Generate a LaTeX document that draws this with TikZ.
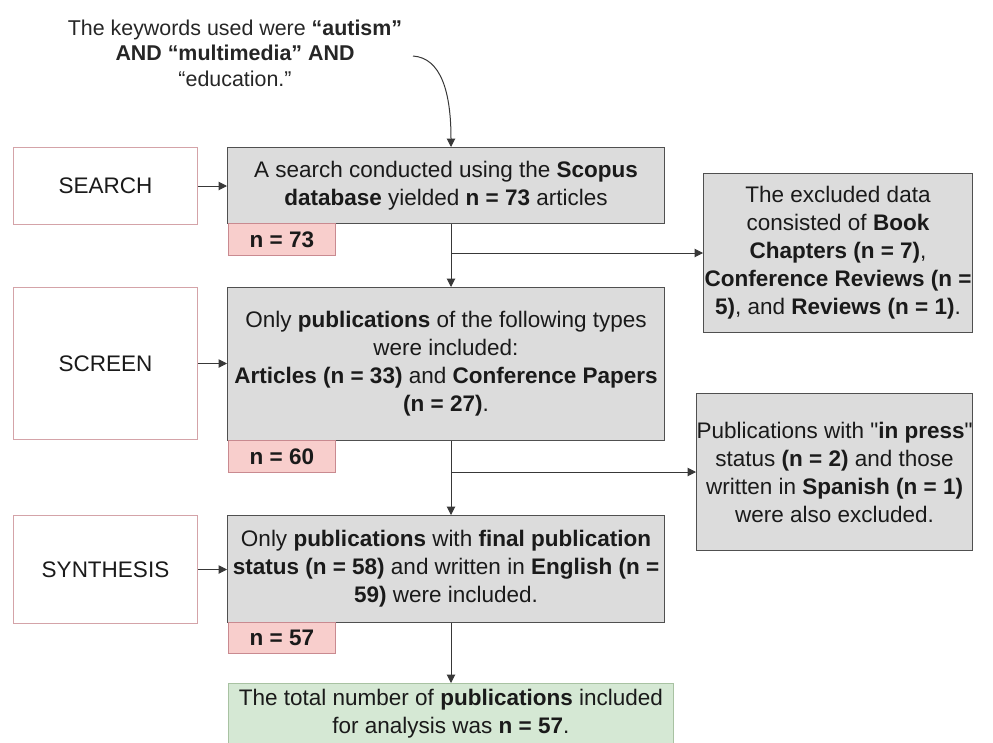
\documentclass[tikz,border=0pt]{standalone}
\usepackage{fontspec}
\setmainfont{Liberation Sans}[Ligatures=TeXOff]
\usetikzlibrary{arrows.meta,calc}
\definecolor{boxgray}{HTML}{DCDCDC}
\definecolor{boxedge}{HTML}{505050}
\definecolor{pinkfill}{HTML}{F8CECC}
\definecolor{pinkedge}{HTML}{C98A90}
\definecolor{labeledge}{HTML}{D4A3A8}
\definecolor{greenfill}{HTML}{D5E8D4}
\definecolor{greenedge}{HTML}{A8C2A2}
\definecolor{txt}{HTML}{1A1A1A}
\tikzset{
  base/.style={rectangle, anchor=north west, inner sep=0pt, align=center, text=txt,
    font=\fontsize{22.5}{28}\selectfont},
  stagebox/.style={base, draw=labeledge, fill=white, line width=1pt},
  mainbox/.style={base, draw=boxedge, fill=boxgray, line width=1pt},
  countbox/.style={base, draw=pinkedge, fill=pinkfill, line width=0.8pt},
  finalbox/.style={base, draw=greenedge, fill=greenfill, line width=0.8pt},
  arr/.style={draw=boxedge!70!black, line width=1pt, -{Triangle[length=8.5pt,width=8.5pt]}},
}
\begin{document}
\begin{tikzpicture}[x=1pt,y=-1pt]
\useasboundingbox (0,0) rectangle (993,742);
\clip (0,0) rectangle (993,742);

% keywords
\node[base, anchor=center, text=black!85, font=\fontsize{21.4}{25.5}\selectfont] (kw) at (235,53)
  {The keywords used were \textbf{“autism”}\\ \textbf{AND “multimedia” AND}\\ “education.”};

% stage labels
\node[stagebox, minimum width=184pt, minimum height=77pt] (search) at (13,147) {SEARCH};
\node[stagebox, minimum width=184pt, minimum height=152pt] (screen) at (13,287) {SCREEN};
\node[stagebox, minimum width=184pt, minimum height=108pt] (synth) at (13,515) {SYNTHESIS};

% main boxes
\node[mainbox, minimum width=437pt, minimum height=76pt] (sbox) at (227,147)
  {A search conducted using the \textbf{Scopus}\\ \textbf{database} yielded \textbf{n = 73} articles};
\node[mainbox, minimum width=437pt, minimum height=153pt] (scbox) at (227,287)
  {Only \textbf{publications} of the following types\\ were included:\\ \textbf{Articles (n = 33)} and \textbf{Conference Papers}\\ \textbf{(n = 27)}.};
\node[mainbox, minimum width=437pt, minimum height=107pt] (sybox) at (227,515)
  {Only \textbf{publications} with \textbf{final publication}\\ \textbf{status (n = 58)} and written in \textbf{English (n =}\\ \textbf{59)} were included.};

% counts
\node[countbox, minimum width=107pt, minimum height=32pt] (n73) at (228,223) {\textbf{n = 73}};
\node[countbox, minimum width=107pt, minimum height=32pt] (n60) at (228,440) {\textbf{n = 60}};
\node[countbox, minimum width=107pt, minimum height=31pt] (n57) at (228,622) {\textbf{n = 57}};

% exclusions
\node[mainbox, minimum width=269pt, minimum height=159pt] (ex1) at (703,173)
  {The excluded data\\ consisted of \textbf{Book}\\ \textbf{Chapters (n = 7)},\\ \textbf{Conference Reviews (n =}\\ \textbf{5)}, and \textbf{Reviews (n = 1)}.};
\node[mainbox, minimum width=276pt, minimum height=157pt] (ex2) at (696,393)
  {Publications with "\textbf{in press}"\\ status \textbf{(n = 2)} and those\\ written in \textbf{Spanish (n = 1)}\\ were also excluded.};

% final
\node[finalbox, minimum width=445pt, minimum height=80pt] (final) at (228,683) {};
\node[base, anchor=center] (finaltxt) at (final.north |- 0,714)
  {The total number of \textbf{publications} included\\ for analysis was \textbf{n = 57}.};

% spine
\coordinate (spine) at (451,0);
\coordinate (kwend) at (413,56);

% connectors
\draw[arr] (kwend) .. controls (441,58) and (451,92) .. (sbox.north -| spine);
\draw[arr] (search.east) -- (sbox.west |- search.east);
\draw[arr] (screen.east) -- (scbox.west |- screen.east);
\draw[arr] (synth.east) -- (sybox.west |- synth.east);
\draw[arr] (sbox.south -| spine) -- (scbox.north -| spine);
\draw[arr] (scbox.south -| spine) -- (sybox.north -| spine);
\draw[arr] (sybox.south -| spine) -- (final.north -| spine);
\draw[arr] (ex1.west -| spine) -- (ex1.west);
\draw[arr] (ex2.west -| spine) -- (ex2.west);
\end{tikzpicture}
\end{document}
